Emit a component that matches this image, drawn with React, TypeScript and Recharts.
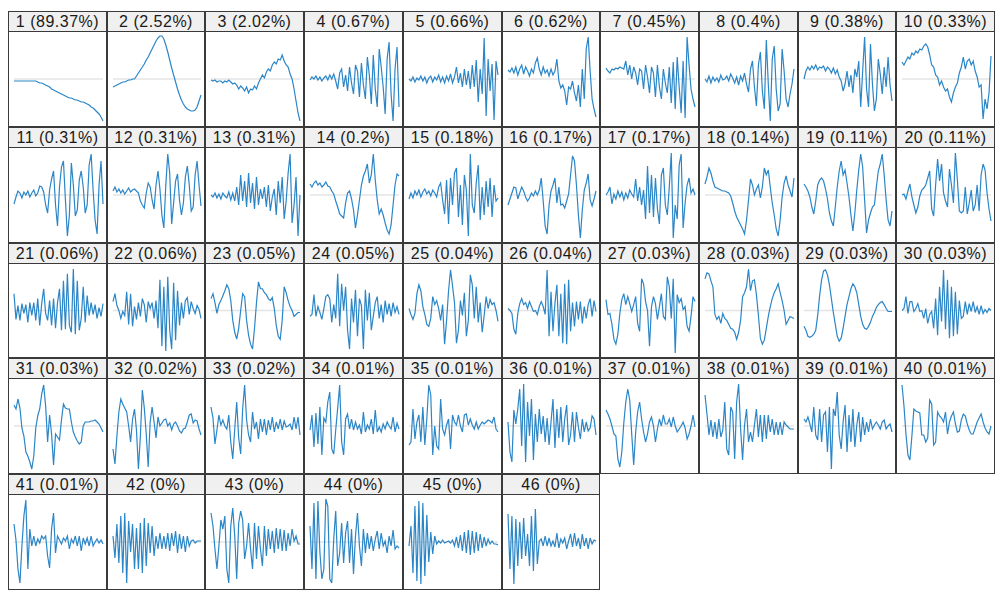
import React from 'react'
import { LineChart, Line, XAxis, YAxis, ReferenceLine } from 'recharts'

// explained variance of each component, in %
const shares = [
  89.37, 2.52, 2.02, 0.67, 0.66, 0.62, 0.45, 0.4, 0.38, 0.33,
  0.31, 0.31, 0.31, 0.2, 0.18, 0.17, 0.17, 0.14, 0.11, 0.11,
  0.06, 0.06, 0.05, 0.05, 0.04, 0.04, 0.03, 0.03, 0.03, 0.03,
  0.03, 0.02, 0.02, 0.01, 0.01, 0.01, 0.01, 0.01, 0.01, 0.01,
  0.01, 0, 0, 0, 0, 0,
]

// component loadings (x100), 46 lags each
const pc1 = [-2, -2, -2, -2, -2, -2, -2, -2, -2, -2, -2, -2, -3, -4, -4, -5, -6, -7, -8, -10, -11, -12, -13, -14, -15, -16, -17, -18, -19, -19, -20, -21, -21, -22, -23, -23, -24, -25, -26, -28, -29, -31, -33, -35, -38, -42]
const pc2 = [-8, -7, -6, -5, -4, -3, -3, -2, -1, -1, 0, 0, 3, 6, 9, 12, 15, 19, 22, 26, 30, 34, 38, 41, 43, 43, 40, 34, 27, 19, 11, 4, -3, -10, -16, -21, -25, -28, -30, -31, -32, -32, -31, -28, -22, -16]
const pc3 = [-1, -2, -1, -3, -2, -2, -4, -2, -3, -1, -3, -5, -4, -6, -10, -7, -9, -12, -8, -14, -10, -11, -7, -10, -4, 0, 4, 1, 7, 10, 8, 14, 17, 15, 20, 19, 24, 18, 14, 12, 5, 0, -10, -22, -34, -42]
const pc4 = [-1, 2, 0, 3, -1, 2, -2, 1, 3, -1, 4, 0, 5, -2, -10, 6, 10, -8, 4, -12, 12, -4, -15, 14, 8, -18, 16, -6, -20, 22, 4, -25, 24, -10, -28, 30, 12, -8, -35, 20, 37, -15, -42, 10, 32, -28]
const pc5 = [0, -2, 2, -3, 1, -1, 3, -2, 2, -4, 1, 3, -3, 2, -1, 4, -3, 2, -4, 3, -2, 5, -4, 2, 12, -4, 6, -8, 10, -6, 8, -10, 14, -8, 19, -23, 10, -15, 41, -37, 20, -12, 15, -41, 18, 4]
const pc6 = [9, 7, 11, 6, 12, 4, 10, 14, 5, 12, 8, 3, 10, 6, 16, 21, 10, 4, 12, 6, 9, 3, 10, 4, 8, 20, -2, -9, -6, -12, -26, -8, -10, -2, -14, -22, -6, -28, 10, -20, 30, 42, 8, -20, -30, -38]
const pc7 = [11, 8, 6, 10, 9, 11, 10, 12, 11, 10, 18, 4, 14, 0, 12, 6, -6, 10, 8, -10, 14, 2, -14, 12, 6, -18, 14, -8, -20, 10, -4, -14, 12, -24, 17, -30, 22, -8, -34, 18, -39, 42, 14, -10, -20, -28]
const pc8 = [0, -3, 3, -4, 2, -2, 1, -3, 4, -1, 0, 3, -2, 5, 1, -4, 2, -6, 3, -2, 6, -5, -13, 10, 18, -8, -27, 14, 27, -12, -30, 39, -5, -42, 20, 33, -10, -32, -25, 30, 8, -20, -28, -15, -5, 10]
const pc9 = [0, 8, 12, 9, 13, 10, 14, 9, 12, 11, 13, 8, 12, 10, 6, 11, 5, 9, 2, -2, -12, -5, 8, -8, 4, -14, 10, 2, 18, -28, 8, 42, -10, -28, 35, -5, -32, -20, 20, 5, -15, 12, -8, 22, -6, -22]
const pc10 = [17, 14, 18, 22, 20, 26, 24, 28, 26, 30, 29, 33, 35, 32, 24, 14, 12, 4, 2, -6, -2, -8, -12, -10, -18, -23, -14, -8, -4, 6, 12, 22, 10, 18, 20, 14, 18, 8, 2, -8, -6, -40, -20, -30, -14, 23]
const pc11 = [-9, -2, 4, 2, -3, 3, 0, 4, -2, 2, 5, -1, 2, 9, 8, 3, -10, -18, 5, 16, 24, -10, -31, 8, 28, 34, -5, -41, -20, 32, 10, -21, -15, 15, 24, 8, -18, -10, 30, 41, 5, -25, -39, 10, 34, -9]
const pc12 = [4, 8, 3, 6, 2, 5, 1, 4, 7, 3, 5, 6, 4, 2, -6, -10, -13, 2, 12, 8, -5, -14, 10, 24, 6, -20, -33, 10, 41, 22, -29, -8, 14, 21, -5, -20, -8, 18, 29, 10, -16, -12, 20, 34, 10, -11]
const pc13 = [0, -2, 2, -3, 1, -4, 2, -1, -3, 3, -5, 2, -6, 8, -10, 20, -6, 14, -12, 22, -8, 12, -14, 18, -10, 6, -4, 8, -12, 10, -16, -2, 6, -20, 14, -8, 18, -24, -6, 22, 41, -28, -10, 18, -41, 0]
const pc14 = [11, 8, 12, 14, 10, 12, 8, 10, 13, 9, 8, 4, 1, -6, -12, -19, -21, -23, -8, 2, 4, -4, -15, -33, -20, -5, 10, 19, 24, 31, 12, 20, 41, 15, -5, -19, -14, -20, -28, -35, -39, -30, -10, 10, 21, 19]
const pc15 = [-4, 2, -3, 4, 0, 5, -2, 3, 6, 1, 4, -1, 5, 2, -2, 8, 12, -5, -19, 15, -29, 17, -10, 22, 27, -22, 10, -30, 20, 5, -41, 41, -10, -18, 12, 30, -25, 8, -20, 14, -12, 17, -22, 10, -6, -3]
const pc16 = [-10, -4, 2, 8, 7, -4, 2, 8, 4, -2, -6, -3, 2, -1, 4, 0, 5, 17, -6, -31, -39, -10, 4, 10, 17, -8, 8, -10, -9, -13, -6, 1, 20, 39, 34, 10, -20, -43, -15, 5, 12, 21, -5, -11, -4, 4]
const pc17 = [0, 3, 8, -9, 1, -4, 4, -2, 3, -5, 2, -3, 5, 1, -2, 16, -6, 8, -10, 5, -24, 29, -18, 20, -22, 17, -14, -29, 20, 27, -10, -20, 8, 42, -43, -10, -24, 30, 41, -33, -8, 10, 17, 2, 6, 0]
const pc18 = [11, 18, 27, 22, 14, 8, 7, 6, 5, 4, 4, 3, 2, -1, -8, -16, -22, -26, -30, -34, -39, -25, -5, 16, 10, 0, 6, 10, -3, 8, 27, 20, 25, 8, -8, -20, -34, -41, -25, -2, 12, 19, 10, 4, -2, 17]
const pc19 = [11, 8, 4, -2, -12, -19, -6, 10, 15, 17, 14, 6, -4, -18, -26, -31, -12, 8, 24, 34, 20, 25, 12, -2, -20, -36, -18, 5, 25, 41, 28, -5, -38, -25, -18, -12, -10, 8, 24, 31, 41, 20, -5, -25, -31, -16]
const pc20 = [0, 1, -4, 4, 11, -2, -10, -18, -12, -1, 5, 7, 10, 17, 24, -14, -21, 10, 36, 14, 31, 2, -6, -12, 26, 10, -8, 42, 15, -16, -18, -16, 8, -19, -8, 5, -16, -10, 10, -16, 20, 31, 25, 2, -14, -26]
const pc21 = [17, -9, 5, -10, 7, -3, 6, -12, 8, -5, 8, -10, 12, -15, 7, 22, -3, -10, 10, -15, 12, -18, 8, 22, -20, 30, -19, 37, -15, -22, 42, -24, 30, -20, -8, 24, -12, 15, -5, 8, -4, 6, -8, 3, -6, 7]
const pc22 = [9, 17, 5, 0, -8, -1, -5, 19, -14, 17, -16, 4, -9, 8, -6, 12, 6, -12, 9, 2, 8, -8, 10, -18, 31, -36, 24, -41, 34, -20, -39, 28, -30, 20, -15, 8, -8, 10, 13, -4, 9, 2, -3, 5, 1, -8]
const pc23 = [12, 17, 8, -3, 6, 10, 15, 20, 26, 22, 10, -10, -22, -29, -18, 0, 17, 14, -10, -25, -34, -39, -18, 8, 29, 22, 22, 18, 16, 12, 10, 13, 2, -15, -26, -29, -10, 24, 18, 10, 4, 0, -6, -4, -2, -2]
const pc24 = [-6, -4, 16, -6, 4, -2, -9, 2, 14, 16, 12, -12, 6, -8, 37, -16, 27, 0, 24, -20, -39, 12, -12, 21, -26, 12, 5, -39, 21, -10, 18, -20, -6, 8, 14, -8, 6, -12, 10, -4, 7, -6, 8, -2, 4, -4]
const pc25 = [2, -4, -9, -3, 17, 26, 20, 4, -4, -14, -16, -8, 14, 6, 10, 2, -10, 6, -34, -10, 20, 41, 25, 8, -33, -20, 10, -5, 18, -26, -10, 36, 26, -8, 24, -12, 8, -22, -5, 14, 2, 11, 6, 8, 0, -11]
const pc26 = [2, 0, -3, -19, -24, -3, 7, 12, 6, 8, 2, 9, 4, -1, 0, -4, 4, 9, 4, -4, 41, -26, 19, -21, 7, 26, -26, 17, -33, 27, -34, 31, -21, 8, -16, 9, -9, 9, -13, 4, -8, 6, 12, -6, 10, -1]
const pc27 = [11, -4, -3, -14, -29, -34, -24, -3, 11, 17, 6, 14, 7, -1, 6, 14, -13, -21, 32, 27, 9, 0, -36, 4, 14, 7, -9, 4, 17, -6, -9, 34, 24, -8, 32, -43, 16, 8, 12, 1, 4, -16, -21, -6, 14, 9]
const pc28 = [32, 38, 37, 30, 24, -4, -9, -6, -13, -3, -8, -10, -14, -18, -19, -22, -29, -22, -10, 14, 18, 24, 42, 20, 30, 31, 16, -5, -28, -34, -30, -18, -6, 4, 12, 18, 22, 27, 18, 10, 0, -14, -10, -6, -7, -8]
const pc29 = [-16, -20, -26, -27, -26, -24, -20, -5, 15, 31, 40, 41, 36, 26, 12, -2, -14, -26, -31, -28, -18, -6, 6, 14, 22, 27, 24, 18, 6, -6, -14, -18, -19, -16, -12, -6, -2, 3, 6, 8, 9, 6, 2, -1, -1, -1]
const pc30 = [0, 2, 14, -3, 9, 9, -1, 2, 7, -1, 0, -8, 2, -13, -4, -1, -18, 12, -25, 24, -11, 41, -19, 31, -28, 24, -26, 19, -24, 10, -8, -6, 9, -4, 7, -1, 9, -2, 4, -4, 5, -3, 1, -2, 2, 0]
const pc31 = [21, 17, 27, 18, -2, -10, -26, -30, -36, -43, -30, -2, 10, 17, 32, 41, 20, -16, 11, -8, -39, -8, -11, -14, 6, 22, 18, 17, 17, 4, -6, -11, -15, -18, -16, 0, 4, 4, 4, 5, 5, 6, 4, 2, -2, -6]
const pc32 = [-23, -38, -10, 14, 27, 22, 18, 14, 0, -16, 7, 17, -4, -43, -10, 36, 18, -8, -41, 4, 19, 4, -12, 9, 0, 3, 6, 7, 0, 3, -4, 2, 4, 0, -5, -7, -3, -2, 4, 11, 12, 3, 6, 5, -3, -9]
const pc33 = [19, 8, -18, -4, 11, 1, 6, 0, -3, 11, -16, -33, -3, 24, -12, -28, 17, 41, 6, -9, -16, 14, -3, 4, -13, 7, -6, 7, -9, 6, -4, 9, -6, 4, -3, 7, -4, 5, -1, 0, 2, -4, 9, -3, 9, -9]
const pc34 = [-4, 11, -21, 13, -18, 19, -29, 8, 4, 24, 34, -23, -28, -4, 18, 41, -16, -29, 7, 12, -3, 7, -4, 4, -3, 1, -8, 14, -6, 1, -3, 7, -8, 16, -6, -1, -6, 2, -3, 4, 0, -3, 9, -6, 3, -3]
const pc35 = [-19, -16, 17, -13, 4, 11, -16, 19, -19, 7, 41, 31, -29, 0, -20, -23, 27, -3, -9, 1, 7, -23, 11, 4, 1, 11, 0, -6, 11, 12, 1, 7, 1, -3, 4, -3, 1, 4, 2, 4, 6, 5, 3, 9, -3, -6]
const pc36 = [4, -26, -36, 16, 2, 17, 37, -20, 42, -36, 24, -10, 27, -34, 12, -16, 17, -8, 10, -16, 8, -19, 4, 27, -22, 17, -12, 19, -16, 7, 21, -19, -9, 14, -16, 14, -1, -13, 7, -6, 4, -5, -2, 10, 7, -9]
const pc37 = [16, 12, 7, 0, -8, -10, -33, -41, -26, 3, 24, 37, 26, -8, -39, -6, 14, 24, 7, -6, -16, -8, 4, 9, 0, -16, -3, 7, 0, 11, 2, 2, 7, -1, 9, 0, -6, -3, 0, 4, -2, -13, -8, 0, 11, -1]
const pc38 = [31, 12, -9, 6, -11, 4, -13, 7, -11, -4, 24, -23, -29, 19, 14, -33, 24, 42, -3, -34, 1, 17, -16, -6, -16, 1, 17, -11, 11, -16, 11, -13, 11, -6, 7, -9, 4, -9, 4, -9, 4, 1, -1, -3, -3, -3]
const pc39 = [7, 4, 9, 2, -6, 19, -9, -14, 17, -16, 11, 14, -26, 19, -43, 17, 10, 34, -9, -23, 4, 21, -26, 11, -16, 17, -21, 1, 14, -16, 9, -9, 4, -6, 7, -3, 1, 4, 1, -3, 4, 6, -3, 0, 2, -6]
const pc40 = [41, 20, -8, -29, -34, -10, 17, 15, 14, 13, -9, -9, -16, -12, 26, 22, -19, -16, 14, 10, 8, 4, 14, -8, 4, 10, 14, 2, -6, -5, 6, 12, 10, 2, -4, -8, -8, -2, 4, 8, 12, 4, -2, -6, -8, 0]
const pc41 = [18, 2, -27, -41, -4, 26, 42, -27, 13, -4, 6, -4, 3, -1, 6, 3, 6, -14, -26, 13, 29, -11, 6, 2, -2, 4, 1, 6, -7, 3, -1, 6, -4, 6, -9, 4, -2, 4, -4, 6, -4, 0, 3, -1, 2, -2]
const pc42 = [6, -16, 18, -21, 26, -31, 29, -41, 21, -10, 18, -27, 14, -27, 19, -31, 24, -24, 19, -11, 16, -14, 6, -7, 9, -7, 6, -7, 9, -9, 9, -4, 11, -11, 8, -7, 6, -10, 6, -4, 1, 2, -1, 1, 1, 1]
const pc43 = [29, 16, -7, -27, -4, 22, 13, 26, -27, -41, 16, 34, 6, -37, 19, 31, 22, -17, -4, 19, -7, -27, 19, -17, 16, -7, -24, 16, -14, 13, -7, 11, -11, 14, -7, 13, -9, 12, -9, 9, -4, 13, 1, 6, -2, -2]
const pc44 = [16, -27, 39, -37, 41, -10, -37, -27, 43, 36, -37, -41, 3, 31, -24, -11, 19, -21, 9, 21, -21, 13, -32, 6, 29, -4, -24, 13, -11, 9, -7, 6, -9, 3, 11, -7, 9, -4, 1, -11, 6, -4, 12, -7, -4, -6]
const pc45 = [-4, 16, -31, 36, -39, 41, -42, 39, -34, 27, -20, 10, -12, 6, -2, 1, -1, 2, -1, 0, 1, -1, 2, -4, 5, -6, 7, -9, 10, -11, 12, -13, 11, -11, 10, -9, 8, -6, 5, -4, 3, -2, 1, -2, -2, -3]
const pc46 = [28, -27, 26, -42, 23, -24, 20, -17, 24, -14, 8, -24, 26, -29, 33, -22, 1, 3, -4, 6, -4, 4, -4, 1, -5, 9, -6, 3, -1, 4, -7, 1, 8, -5, 9, -4, 4, -7, 8, -4, 4, -7, 4, -2, 2, 1]

const components = [
  pc1, pc2, pc3, pc4, pc5, pc6, pc7, pc8, pc9, pc10,
  pc11, pc12, pc13, pc14, pc15, pc16, pc17, pc18, pc19, pc20,
  pc21, pc22, pc23, pc24, pc25, pc26, pc27, pc28, pc29, pc30,
  pc31, pc32, pc33, pc34, pc35, pc36, pc37, pc38, pc39, pc40,
  pc41, pc42, pc43, pc44, pc45, pc46,
]

const COLS = 10
const LEFT = 8
const TOP = 11
const PITCH_X = 98.7
const PITCH_Y = 115.8
const HEADER = 20

const colX = (c: number) => Math.round(LEFT + c * PITCH_X)
const rowY = (r: number) => Math.round(TOP + r * PITCH_Y)

function Panel({ values, idx }: { values: number[]; idx: number }) {
  const data = values.map((v, i) => ({ i, v }))
  const col = idx % COLS
  const row = Math.floor(idx / COLS)
  const left = colX(col)
  const top = rowY(row)
  const w = colX(col + 1) - left
  const h = rowY(row + 1) - top
  return (
    <div
      style={{
        position: 'absolute',
        left,
        top,
        width: w,
        height: h,
        boxSizing: 'border-box',
        border: '1px solid #3a3a3a',
        background: '#fff',
      }}
    >
      <div
        style={{
          height: HEADER - 1,
          borderBottom: '1px solid #3a3a3a',
          background: '#f0f0f0',
          textAlign: 'center',
          fontFamily: '"Liberation Sans", Arial, sans-serif',
          fontSize: 16,
          letterSpacing: 0.5,
          lineHeight: '20px',
          color: '#1a1a1a',
          whiteSpace: 'nowrap',
        }}
      >
        {`${idx + 1} (${shares[idx]}%)`}
      </div>
      <LineChart
        width={w - 2}
        height={h - 2 - HEADER}
        data={data}
        margin={{ top: 0, right: 3, bottom: 0, left: 5 }}
      >
        <XAxis dataKey='i' type='number' domain={[0, values.length - 1]} hide />
        <YAxis type='number' domain={[-47, 47]} hide allowDataOverflow />
        <ReferenceLine y={0} stroke='#e4e4e4' strokeWidth={1.5} />
        <Line
          type='linear'
          dataKey='v'
          stroke='#2b86c8'
          strokeWidth={1.2}
          dot={false}
          isAnimationActive={false}
        />
      </LineChart>
    </div>
  )
}

export default function App() {
  return (
    <div
      style={{
        position: 'absolute',
        left: 0,
        top: 0,
        width: 1005,
        height: 597,
        background: '#fff',
        overflow: 'hidden',
      }}
    >
      {components.map((values, idx) => (
        <Panel key={idx} values={values} idx={idx} />
      ))}
    </div>
  )
}
